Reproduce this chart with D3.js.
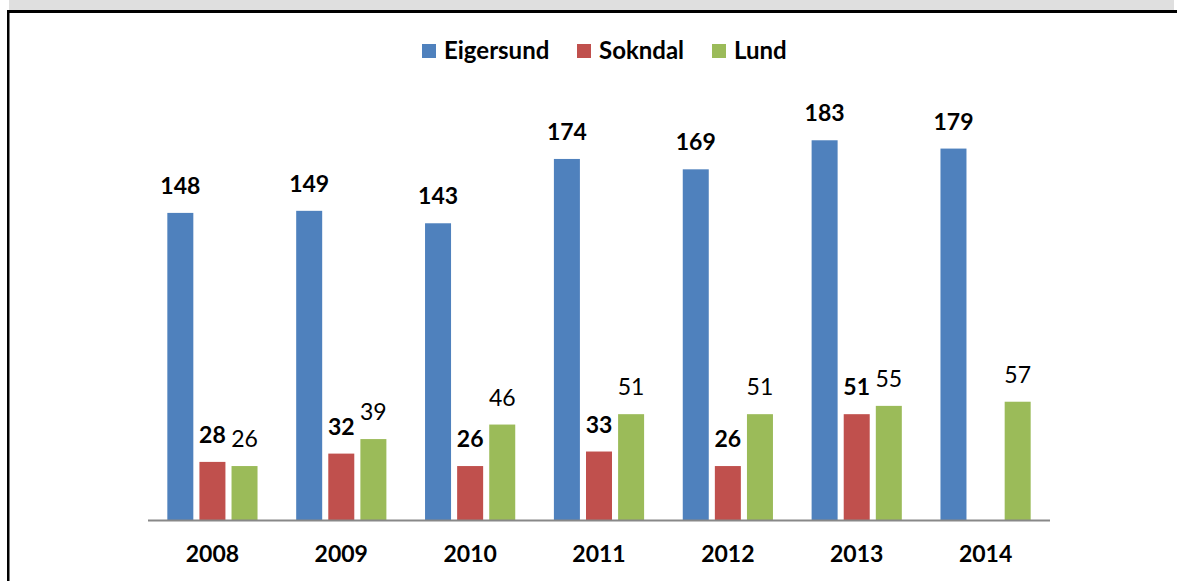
<!DOCTYPE html>
<html>
<head>
<meta charset="utf-8">
<script src="https://cdn.jsdelivr.net/npm/d3@7"></script>
<style>
  html, body { margin: 0; padding: 0; background: #fff; }
  svg { display: block; font-family: Lato, "Open Sans", sans-serif; }
</style>
</head>
<body>
<svg id="chart" width="1177" height="581"></svg>
<script>
const years = ["2008", "2009", "2010", "2011", "2012", "2013", "2014"];
const seriesNames = ["Eigersund", "Sokndal", "Lund"];
const eigersund = [148, 149, 143, 174, 169, 183, 179];
const sokndal = [28, 32, 26, 33, 26, 51, null];
const lund = [26, 39, 46, 51, 51, 55, 57];
const colors = ["#4f81bd", "#c0504d", "#9bbb59"];
const boldLabel = [true, true, false];

const seriesValues = [eigersund, sokndal, lund];

const svg = d3.select("#chart");
const W = 1177, H = 581;

// frame bits: grey strip on top, black rules top and left
svg.append("rect").attr("x", 9).attr("y", 0).attr("width", 1165).attr("height", 10).attr("fill", "#dfdfdf");
svg.append("rect").attr("x", 7).attr("y", 10).attr("width", W - 7).attr("height", 3).attr("fill", "#000");
svg.append("rect").attr("x", 7).attr("y", 10).attr("width", 2.5).attr("height", H - 10).attr("fill", "#000");

const x0 = d3.scaleBand()
    .domain(years)
    .range([148, 1050])
    .paddingInner(0.3)
    .paddingOuter(0.15);

const x1 = d3.scaleBand()
    .domain(seriesNames)
    .range([0, x0.bandwidth()])
    .paddingInner(0.19);

const y = d3.scaleLinear()
    .domain([0, 200])
    .range([520, 105]);

const g = svg.append("g");

const groups = g.selectAll("g.year")
    .data(years)
    .join("g")
    .attr("class", "year")
    .attr("transform", d => `translate(${x0(d)},0)`);

groups.each(function (yr, i) {
    const grp = d3.select(this);
    seriesNames.forEach((s, k) => {
        const v = seriesValues[k][i];
        if (v == null) return;
        grp.append("rect")
            .attr("x", x1(s))
            .attr("y", y(v))
            .attr("width", x1.bandwidth())
            .attr("height", y(0) - y(v))
            .attr("fill", colors[k]);
        grp.append("text")
            .attr("x", x1(s) + x1.bandwidth() / 2)
            .attr("y", y(v) - 19)
            .attr("text-anchor", "middle")
            .attr("font-size", 23)
            .attr("font-weight", boldLabel[k] ? "bold" : "normal")
            .attr("fill", "#000")
            .text(v);
    });
});

// x axis: plain grey line, bold year labels, no ticks
const xAxis = g.append("g")
    .attr("transform", `translate(0,${y(0)})`)
    .call(d3.axisBottom(x0).tickSize(0).tickPadding(26));
xAxis.select(".domain").attr("stroke", "#888").attr("stroke-width", 2).attr("d", "M148,0.5H1050");
xAxis.selectAll("text")
    .attr("font-size", 23)
    .attr("font-weight", "bold")
    .attr("fill", "#000")
    .attr("font-family", "Lato, 'Open Sans', sans-serif");

// legend
const legendX = [422, 577, 712];
const legend = svg.append("g");
seriesNames.forEach((s, k) => {
    legend.append("rect")
        .attr("x", legendX[k]).attr("y", 44)
        .attr("width", 14).attr("height", 14)
        .attr("fill", colors[k]);
    legend.append("text")
        .attr("x", legendX[k] + 22).attr("y", 59)
        .attr("font-size", 24)
        .attr("font-weight", "bold")
        .attr("fill", "#000")
        .text(s);
});
</script>
</body>
</html>
